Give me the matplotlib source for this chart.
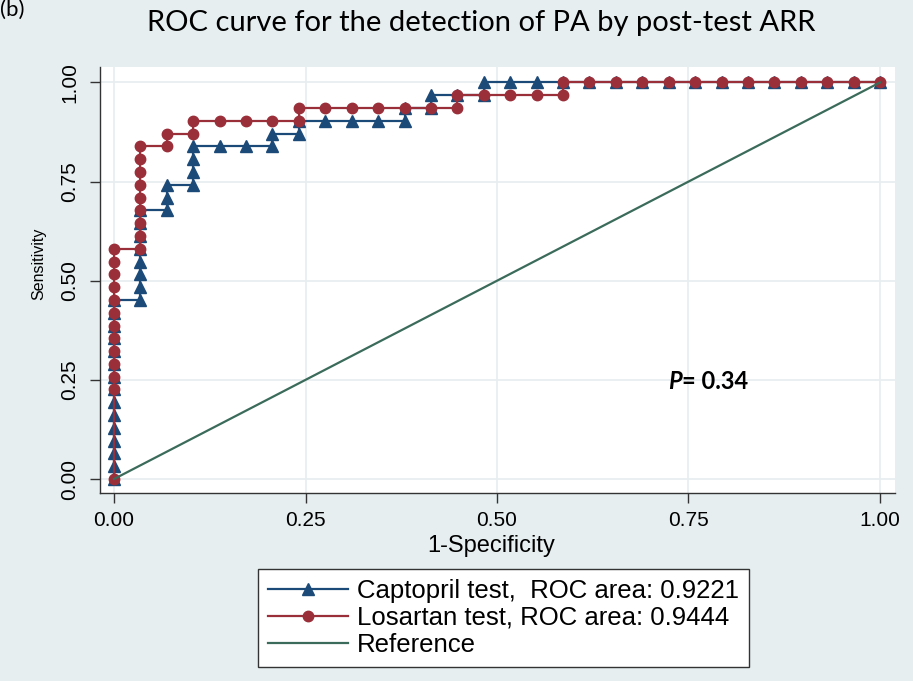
import matplotlib
matplotlib.use("Agg")
import matplotlib.pyplot as plt

# values (29 non-PA, 31 PA -> steps of 1/29 and 1/31)
capto_fpr = [0.0, 0.0, 0.0, 0.0, 0.0, 0.0, 0.0, 0.0, 0.0, 0.0, 0.0, 0.0, 0.0, 0.0, 0.0,
             0.0345, 0.0345, 0.0345, 0.0345, 0.0345, 0.0345, 0.0345, 0.0345,
             0.0690, 0.0690, 0.0690,
             0.1034, 0.1034, 0.1034, 0.1034,
             0.1379, 0.1724, 0.2069, 0.2069,
             0.2414, 0.2414,
             0.2759, 0.3103, 0.3448, 0.3793, 0.3793,
             0.4138, 0.4138,
             0.4483, 0.4828, 0.4828,
             0.5172, 0.5517, 0.5862, 0.6207, 0.6552, 0.6897, 0.7241, 0.7586,
             0.7931, 0.8276, 0.8621, 0.8966, 0.9310, 0.9655, 1.0]
capto_sens = [0.0, 0.0323, 0.0645, 0.0968, 0.1290, 0.1613, 0.1935, 0.2258, 0.2581,
              0.2903, 0.3226, 0.3548, 0.3871, 0.4194, 0.4516,
              0.4516, 0.4839, 0.5161, 0.5484, 0.5806, 0.6129, 0.6452, 0.6774,
              0.6774, 0.7097, 0.7419,
              0.7419, 0.7742, 0.8065, 0.8387,
              0.8387, 0.8387, 0.8387, 0.8710,
              0.8710, 0.9032,
              0.9032, 0.9032, 0.9032, 0.9032, 0.9355,
              0.9355, 0.9677,
              0.9677, 0.9677, 1.0,
              1.0, 1.0, 1.0, 1.0, 1.0, 1.0, 1.0, 1.0,
              1.0, 1.0, 1.0, 1.0, 1.0, 1.0, 1.0]

losar_fpr = [0.0, 0.0, 0.0, 0.0, 0.0, 0.0, 0.0, 0.0, 0.0, 0.0, 0.0, 0.0, 0.0,
             0.0345, 0.0345, 0.0345, 0.0345, 0.0345, 0.0345, 0.0345, 0.0345, 0.0345,
             0.0690, 0.0690,
             0.1034, 0.1034,
             0.1379, 0.1724, 0.2069, 0.2414, 0.2414,
             0.2759, 0.3103, 0.3448, 0.3793, 0.4138, 0.4483, 0.4483,
             0.4828, 0.5172, 0.5517, 0.5862, 0.5862,
             0.6207, 0.6552, 0.6897, 0.7241, 0.7586, 0.7931, 0.8276, 0.8621,
             0.8966, 0.9310, 0.9655, 1.0]
losar_sens = [0.0, 0.2258, 0.2581, 0.2903, 0.3226, 0.3548, 0.3871, 0.4194, 0.4516,
              0.4839, 0.5161, 0.5484, 0.5806,
              0.5806, 0.6129, 0.6452, 0.6774, 0.7097, 0.7419, 0.7742, 0.8065, 0.8387,
              0.8387, 0.8710,
              0.8710, 0.9032,
              0.9032, 0.9032, 0.9032, 0.9032, 0.9355,
              0.9355, 0.9355, 0.9355, 0.9355, 0.9355, 0.9355, 0.9677,
              0.9677, 0.9677, 0.9677, 0.9677, 1.0,
              1.0, 1.0, 1.0, 1.0, 1.0, 1.0, 1.0, 1.0,
              1.0, 1.0, 1.0, 1.0]

ref_x = [0.0, 1.0]
ref_y = [0.0, 1.0]

labels = ["Captopril test,  ROC area: 0.9221",
          "Losartan test, ROC area: 0.9444",
          "Reference"]
ticks = [0.0, 0.25, 0.5, 0.75, 1.0]
tick_labels = ["0.00", "0.25", "0.50", "0.75", "1.00"]

BG = "#e6eef0"
NAVY = "#1c4a78"
MAROON = "#9a2f3a"
GREEN = "#3b6b5a"

plt.rcParams["font.family"] = ["Liberation Sans", "DejaVu Sans"]

fig = plt.figure(figsize=(9.13, 6.81), dpi=100, facecolor=BG)
ax = fig.add_axes([100 / 913, 1 - 493 / 681, 795 / 913, 426 / 681])
ax.set_facecolor("white")

ax.plot(capto_fpr, capto_sens, color=NAVY, lw=1.6, marker="^", ms=8,
        mec=NAVY, mfc=NAVY, label=labels[0], zorder=3)
ax.plot(losar_fpr, losar_sens, color=MAROON, lw=1.6, marker="o", ms=7.5,
        mec=MAROON, mfc=MAROON, label=labels[1], zorder=4)
ax.plot(ref_x, ref_y, color=GREEN, lw=1.6, label=labels[2], zorder=5)

ax.set_xlim(-0.0183, 1.0196)
ax.set_ylim(-0.0353, 1.039)
ax.set_xticks(ticks)
ax.set_xticklabels(tick_labels)
ax.set_yticks(ticks)
ax.set_yticklabels(tick_labels, rotation=90, va="center")
ax.tick_params(labelsize=15, length=7, width=1, color="#333333", pad=6)
ax.tick_params(axis="y", pad=8)
ax.grid(True, color="#e8eef0", lw=1.3)
ax.set_axisbelow(True)

for s in ["top", "right"]:
    ax.spines[s].set_visible(False)
for s in ["left", "bottom"]:
    ax.spines[s].set_color("#333333")
    ax.spines[s].set_linewidth(1.0)

ax.set_xlabel("1-Specificity", fontsize=17)
ax.xaxis.set_label_coords(0.492, -0.098)
ax.set_ylabel("Sensitivity", fontsize=11.5)
ax.yaxis.set_label_coords(-0.068, 0.5376)

# P value annotation
t = ax.text(0.723, 0.247, "P", fontsize=17, fontweight="bold", style="italic",
            family="Lato", va="center", ha="left")
ax.annotate("= 0.34", xy=(1, 0), xycoords=t, va="bottom", ha="left",
            fontsize=17, fontweight="bold", family="Lato")

fig.text(481 / 913, 1 - 23 / 681, "ROC curve for the detection of PA by post-test ARR",
         ha="center", va="center", fontsize=21, family="Lato")
fig.text(0.0, 1.0, "(b)", ha="left", va="top", fontsize=16, family="Lato")

leg = fig.legend(loc="center", bbox_to_anchor=(503.5 / 913, 1 - 618 / 681),
                 fontsize=18.5, numpoints=1, handlelength=3.1, handletextpad=0.35,
                 labelspacing=0.12, borderpad=0.38, fancybox=False,
                 edgecolor="#333333", framealpha=1)
leg.get_frame().set_linewidth(1.0)

fig.savefig("out.png", dpi=100, facecolor=BG)
